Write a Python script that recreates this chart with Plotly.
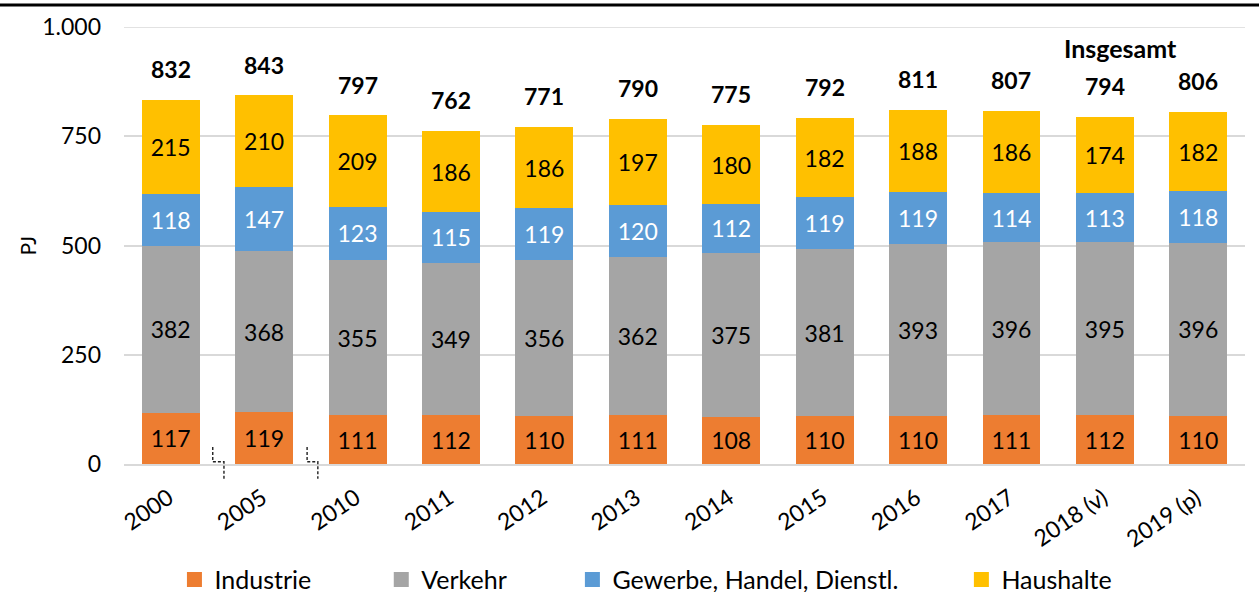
import plotly.graph_objects as go

years = ["2000", "2005", "2010", "2011", "2012", "2013", "2014", "2015",
         "2016", "2017", "2018 (v)", "2019 (p)"]
industrie = [117, 119, 111, 112, 110, 111, 108, 110, 110, 111, 112, 110]
verkehr = [382, 368, 355, 349, 356, 362, 375, 381, 393, 396, 395, 396]
ghd = [118, 147, 123, 115, 119, 120, 112, 119, 119, 114, 113, 118]
haushalte = [215, 210, 209, 186, 186, 197, 180, 182, 188, 186, 174, 182]
totals = [832, 843, 797, 762, 771, 790, 775, 792, 811, 807, 794, 806]
y_ticks = [0, 250, 500, 750, 1000]
y_ticklabels = ["0", "250", "500", "750", "1.000"]

FONT = "Lato"
FS_NUM = 23
FS_TXT = 25
x_idx = list(range(len(years)))

series = [
    ("Industrie", industrie, "#ED7D31", "black", "legend", 0.0450),
    ("Verkehr", verkehr, "#A5A5A5", "black", "legend2", 0.2295),
    ("Gewerbe, Handel, Dienstl.", ghd, "#5B9BD5", "white", "legend3", 0.4000),
    ("Haushalte", haushalte, "#FFC000", "black", "legend4", 0.7470),
]

fig = go.Figure()
for name, vals, color, tcol, lg, lx in series:
    fig.add_trace(go.Bar(
        x=x_idx, y=vals, name=name, marker=dict(color=color, line=dict(width=0)),
        text=[str(v) for v in vals], textposition="inside", insidetextanchor="middle",
        textfont=dict(family=FONT, size=FS_NUM, color=tcol), showlegend=False,
        hoverinfo="skip",
    ))
# legend-only entries (larger square symbols)
for name, vals, color, tcol, lg, lx in series:
    fig.add_trace(go.Scatter(
        x=[None], y=[None], mode="markers", name=name, legend=lg,
        marker=dict(symbol="square", size=15, color=color, line=dict(width=0)),
        hoverinfo="skip",
    ))

annotations = []
for i, t in enumerate(totals):
    annotations.append(dict(x=i, y=t, xref="x", yref="y", text=f"<b>{t}</b>",
                            showarrow=False, yshift=31, yanchor="middle",
                            font=dict(family=FONT, size=FS_NUM, color="black")))
annotations.append(dict(x=10.17, y=952, xref="x", yref="y", text="<b>Insgesamt</b>",
                        showarrow=False, yanchor="middle",
                        font=dict(family=FONT, size=FS_TXT, color="black")))
annotations.append(dict(x=-0.0865, y=0.5, xref="paper", yref="paper", text="PJ",
                        textangle=-90, showarrow=False, xanchor="center", yanchor="middle",
                        font=dict(family=FONT, size=21, color="black")))

shapes = []
shapes.append(dict(type="line", xref="paper", yref="y", x0=0, x1=1, y0=1000, y1=1000,
                   layer="below", line=dict(color="#D9D9D9", width=1.5)))
for xl, xr in [(0.45, 0.57), (1.46, 1.575)]:
    shapes.append(dict(type="path", xref="x", yref="paper",
                       path=f"M {xl},0.039 L {xl},0.005 L {xr},0.005 L {xr},-0.034",
                       line=dict(color="#202020", width=1.4, dash="3px,2px")))
shapes.append(dict(type="line", xref="paper", yref="paper",
                   x0=-0.2, x1=1.2, y0=1.0505, y1=1.0505,
                   line=dict(color="black", width=3)))

legends = {}
for name, vals, color, tcol, lg, lx in series:
    legends[lg] = dict(orientation="h", x=lx, xanchor="left", y=-0.265, yanchor="middle",
                       font=dict(family=FONT, size=FS_TXT, color="black"),
                       bgcolor="rgba(0,0,0,0)", itemwidth=30, itemclick=False,
                       itemsizing="trace")

fig.update_layout(
    barmode="stack", bargap=0.38,
    width=1259, height=592,
    margin=dict(l=124, r=14, t=27, b=128, autoexpand=False),
    paper_bgcolor="white", plot_bgcolor="white",
    font=dict(family=FONT, size=FS_NUM, color="black"),
    xaxis=dict(tickmode="array", tickvals=x_idx, ticktext=years, tickangle=-34,
               range=[-0.5, 11.5], showgrid=False, showline=True, linecolor="#D9D9D9",
               linewidth=1.5, ticks="", ticklabelstandoff=10, ticklabelshift=-2,
               tickfont=dict(family=FONT, size=FS_NUM)),
    yaxis=dict(range=[0, 1000], tickvals=y_ticks, ticktext=y_ticklabels,
               showgrid=True, gridcolor="#D9D9D9", gridwidth=1.5, zeroline=False,
               showline=False, ticks="", ticklabelstandoff=22,
               tickfont=dict(family=FONT, size=FS_NUM)),
    annotations=annotations, shapes=shapes,
    uniformtext=dict(mode="show", minsize=FS_NUM),
    showlegend=True,
    **legends,
)

fig.write_html("out.html", config={"displayModeBar": False},
               post_script="document.body.style.margin='0';document.body.style.overflow='hidden';")
